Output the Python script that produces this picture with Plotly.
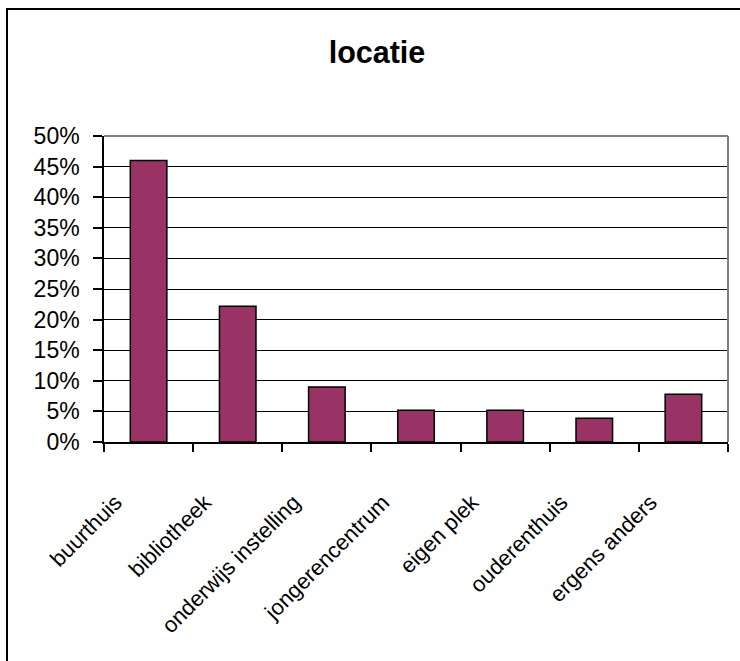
import plotly.graph_objects as go

categories = ["buurthuis", "bibliotheek", "onderwijs instelling", "jongerencentrum",
              "eigen plek", "ouderenthuis", "ergens anders"]
values = [0.46, 0.222, 0.09, 0.052, 0.052, 0.039, 0.078]
y_ticks = [0.0, 0.05, 0.10, 0.15, 0.20, 0.25, 0.30, 0.35, 0.40, 0.45, 0.50]
y_ticklabels = ["0%", "5%", "10%", "15%", "20%", "25%", "30%", "35%", "40%", "45%", "50%"]
title_text = "locatie"

W, H = 740, 661
L, R, T, B = 104, 12, 136, 219
pw, ph = W - L - R, H - T - B

FONT = "Liberation Sans, Arial, sans-serif"

fig = go.Figure()
fig.add_trace(go.Bar(
    x=categories, y=values,
    marker=dict(color="#993366", line=dict(color="#000000", width=1.5)),
    hoverinfo="skip",
))

# outer chart border (right/bottom fall outside the picture)
fig.add_shape(type="rect", xref="paper", yref="paper",
              x0=(7 - L) / pw, x1=(W + 20 - L) / pw,
              y0=-(B + 20) / ph, y1=1 + (T - 9) / ph,
              line=dict(color="#000000", width=2), layer="below")
# plot-area border (gray top and right)
fig.add_shape(type="line", xref="paper", yref="paper", x0=0, x1=1, y0=1, y1=1,
              line=dict(color="#808080", width=2))
fig.add_shape(type="line", xref="paper", yref="paper", x0=1, x1=1, y0=0, y1=1,
              line=dict(color="#808080", width=2))

fig.update_layout(
    width=W, height=H,
    margin=dict(l=L, r=R, t=T, b=B, pad=0),
    paper_bgcolor="white", plot_bgcolor="white",
    showlegend=False,
    bargap=0.59,
    font=dict(family=FONT, color="#000000", size=23),
    title=dict(text="<b>" + title_text + "</b>", x=377 / W, xanchor="center",
               xref="container", yref="container", y=1 - 52 / H, yanchor="middle",
               font=dict(family=FONT, size=30.5, color="#000000")),
    xaxis=dict(
        showline=True, linecolor="#000000", linewidth=1.5,
        ticks="outside", ticklen=8, tickcolor="#000000", tickwidth=1.5,
        tickson="boundaries", tickangle=-45,
        ticklabelstandoff=37, ticklabelshift=-33,
        showgrid=False, fixedrange=True,
        tickfont=dict(family=FONT, size=22, color="#000000"),
    ),
    yaxis=dict(
        range=[0, 0.5], tickvals=y_ticks, ticktext=y_ticklabels,
        showline=True, linecolor="#000000", linewidth=1.5,
        ticks="outside", ticklen=9, tickcolor="#000000", tickwidth=1.5,
        ticklabelstandoff=9,
        showgrid=True, gridcolor="#000000", gridwidth=1.2,
        zeroline=False, fixedrange=True,
        tickfont=dict(family=FONT, size=23, color="#000000"),
    ),
)

fig.write_html("out.html", config={"displayModeBar": False},
               post_script="document.body.style.margin='0px';")
